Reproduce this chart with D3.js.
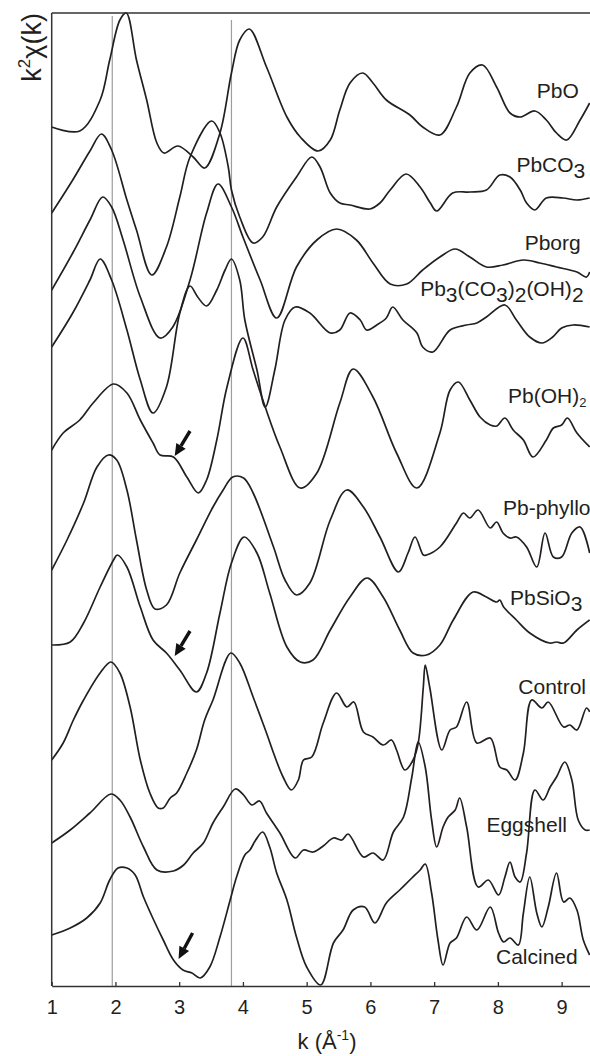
<!DOCTYPE html>
<html>
<head>
<meta charset="utf-8">
<script src="https://cdn.jsdelivr.net/npm/d3@7/dist/d3.min.js"></script>
<style>
  body { margin: 0; background: #fff; }
  text { font-family: "Liberation Sans", Arial, sans-serif; fill: #231f20; }
</style>
</head>
<body>
<script>
  // k values (1/Å) and stacked k²χ(k) values (arbitrary units, offsets included)
  const sPbO = [[1.00,859],[1.44,855],[1.76,886],[1.91,926],[2.07,966],[2.17,973],[2.33,926],[2.49,886],[2.65,843],[2.76,833],[2.98,840],[3.22,829],[3.40,818],[3.64,853],[3.82,913],[3.95,946],[4.10,957],[4.37,919],[4.69,869],[4.90,849],[5.18,835],[5.37,846],[5.52,876],[5.68,903],[5.88,913],[6.04,903],[6.25,886],[6.62,871],[6.82,859],[7.09,851],[7.35,879],[7.56,913],[7.76,921],[7.98,899],[8.19,873],[8.35,869],[8.58,875],[8.76,866],[8.92,853],[9.08,846],[9.29,866],[9.44,883]];
  const sPbCO3 = [[1.00,773],[1.33,806],[1.60,835],[1.78,852],[1.94,836],[2.18,786],[2.33,756],[2.57,711],[2.80,739],[3.01,789],[3.17,829],[3.51,865],[3.64,853],[3.77,819],[3.82,796],[3.95,769],[4.16,743],[4.31,749],[4.53,779],[4.84,809],[5.08,829],[5.21,819],[5.37,793],[5.52,783],[5.68,781],[5.99,777],[6.15,783],[6.31,796],[6.56,812],[6.78,799],[6.94,783],[7.04,775],[7.29,793],[7.56,794],[7.82,796],[8.03,811],[8.19,809],[8.35,796],[8.45,783],[8.58,776],[8.76,788],[9.02,788],[9.24,786],[9.44,788]];
  const sPborg = [[1.00,696],[1.33,733],[1.60,766],[1.80,789],[1.94,779],[2.12,746],[2.39,689],[2.70,648],[2.90,659],[3.17,706],[3.43,773],[3.61,802],[3.82,779],[4.00,749],[4.27,706],[4.53,668],[4.84,719],[5.16,746],[5.47,757],[5.78,746],[6.04,723],[6.31,702],[6.57,702],[6.82,716],[7.09,729],[7.33,737],[7.56,729],[7.82,719],[8.08,721],[8.40,726],[8.66,723],[8.92,719],[9.24,714],[9.39,709],[9.44,714]];
  const sPb3 = [[1.00,639],[1.33,673],[1.60,706],[1.76,727],[1.94,706],[2.18,656],[2.39,606],[2.59,573],[2.80,599],[3.01,673],[3.17,700],[3.29,689],[3.43,680],[3.59,696],[3.72,716],[3.82,727],[3.95,706],[4.03,666],[4.22,616],[4.35,579],[4.50,616],[4.66,666],[4.82,679],[5.05,673],[5.37,653],[5.52,656],[5.68,673],[5.84,666],[5.94,656],[6.10,661],[6.25,668],[6.35,679],[6.51,666],[6.73,653],[6.82,639],[6.98,634],[7.25,656],[7.51,661],[7.67,663],[7.82,669],[8.11,681],[8.29,666],[8.50,649],[8.69,643],[8.86,649],[9.00,658],[9.18,661],[9.44,659]];
  const sPbOH2 = [[1.00,536],[1.18,553],[1.44,566],[1.65,583],[1.97,602],[2.18,593],[2.39,566],[2.59,543],[2.70,531],[2.91,529],[3.12,509],[3.30,493],[3.43,506],[3.59,546],[3.75,599],[4.00,648],[4.16,616],[4.35,579],[4.58,539],[4.90,498],[5.16,513],[5.52,583],[5.73,617],[6.04,589],[6.41,533],[6.73,498],[7.09,553],[7.25,596],[7.38,604],[7.56,586],[7.72,569],[7.88,561],[7.98,560],[8.11,568],[8.24,556],[8.40,546],[8.55,529],[8.76,546],[8.87,558],[9.00,561],[9.09,568],[9.24,553],[9.44,539]];
  const sPhyllo = [[1.00,416],[1.24,446],[1.50,483],[1.71,519],[1.89,531],[2.02,526],[2.18,496],[2.33,446],[2.49,396],[2.62,377],[2.80,381],[3.01,413],[3.27,446],[3.53,479],[3.69,496],[3.84,509],[4.01,508],[4.16,493],[4.48,439],[4.66,406],[4.84,391],[5.05,403],[5.37,466],[5.63,496],[5.89,479],[6.15,449],[6.44,414],[6.59,433],[6.70,449],[6.83,431],[6.88,431],[7.09,439],[7.35,463],[7.46,473],[7.56,468],[7.69,476],[7.88,458],[7.98,464],[8.08,453],[8.19,448],[8.29,449],[8.45,439],[8.61,419],[8.74,453],[8.87,429],[9.00,429],[9.16,453],[9.29,459],[9.44,433]];
  const sPbSiO3 = [[1.00,341],[1.29,344],[1.50,363],[1.76,399],[1.97,426],[2.03,431],[2.18,419],[2.39,379],[2.59,346],[2.80,333],[3.01,316],[3.27,294],[3.43,313],[3.64,373],[3.82,423],[4.02,449],[4.22,433],[4.42,393],[4.69,339],[4.90,324],[5.10,326],[5.37,356],[5.68,389],[5.95,408],[6.20,389],[6.46,356],[6.67,333],[6.88,331],[7.09,341],[7.30,366],[7.61,394],[7.82,389],[7.98,384],[8.03,386],[8.09,379],[8.29,366],[8.50,353],[8.81,343],[8.92,344],[9.03,343],[9.24,356],[9.44,366]];
  const sControl = [[1.00,226],[1.18,243],[1.34,266],[1.50,286],[1.76,313],[1.93,324],[2.07,313],[2.23,279],[2.39,226],[2.54,193],[2.67,178],[2.75,178],[2.86,188],[2.96,193],[3.12,213],[3.27,236],[3.40,266],[3.53,286],[3.81,333],[3.95,323],[4.16,289],[4.37,253],[4.48,233],[4.63,209],[4.76,196],[4.87,206],[4.95,226],[5.08,229],[5.26,263],[5.47,293],[5.63,279],[5.74,284],[5.89,254],[6.04,249],[6.20,241],[6.33,246],[6.41,236],[6.54,216],[6.67,226],[6.75,243],[6.83,299],[6.86,321],[6.93,299],[7.12,236],[7.25,256],[7.35,259],[7.51,284],[7.67,243],[7.88,248],[8.03,219],[8.14,216],[8.27,206],[8.40,233],[8.53,286],[8.69,278],[8.79,284],[9.03,259],[9.13,261],[9.24,256],[9.39,278],[9.44,274]];
  const sEggshell = [[1.00,143],[1.29,156],[1.60,173],[1.93,192],[2.07,186],[2.23,169],[2.44,139],[2.65,116],[2.91,115],[3.07,121],[3.22,133],[3.38,143],[3.53,163],[3.69,179],[3.88,197],[4.01,191],[4.14,181],[4.26,185],[4.37,173],[4.58,153],[4.82,128],[4.95,136],[5.10,134],[5.26,140],[5.42,148],[5.55,146],[5.65,152],[5.89,129],[6.04,133],[6.20,126],[6.36,154],[6.52,169],[6.65,209],[6.75,244],[6.86,219],[6.96,166],[7.04,139],[7.14,159],[7.22,169],[7.33,176],[7.40,188],[7.51,159],[7.69,99],[7.85,106],[8.01,91],[8.11,109],[8.19,124],[8.27,109],[8.35,104],[8.45,133],[8.58,196],[8.71,186],[8.82,199],[8.92,209],[9.05,224],[9.16,206],[9.26,166],[9.37,156],[9.44,156]];
  const sCalcined = [[1.00,51],[1.29,58],[1.55,68],[1.76,83],[1.91,106],[2.04,118],[2.18,118],[2.31,111],[2.44,89],[2.60,66],[2.75,46],[2.91,26],[3.06,16],[3.20,13],[3.33,8],[3.48,19],[3.64,49],[3.80,86],[3.90,109],[4.03,131],[4.11,136],[4.20,146],[4.31,154],[4.42,139],[4.53,113],[4.69,86],[4.84,49],[5.00,19],[5.22,1],[5.42,43],[5.57,56],[5.73,76],[5.91,79],[6.07,63],[6.25,83],[6.46,96],[6.65,108],[6.78,116],[6.86,122],[6.96,93],[7.06,46],[7.14,21],[7.25,43],[7.35,48],[7.51,69],[7.67,56],[7.88,79],[8.01,53],[8.09,44],[8.19,48],[8.32,41],[8.40,73],[8.50,109],[8.61,73],[8.69,59],[8.79,79],[8.92,113],[9.03,84],[9.13,88],[9.24,76],[9.34,46],[9.44,31]];

  const seriesList = [sPbO, sPbCO3, sPborg, sPb3, sPbOH2, sPhyllo, sPbSiO3, sControl, sEggshell, sCalcined];

  // sample names, pieces: [text, kind] where kind 0 = normal, 1 = subscript, 2 = small subscript
  const sampleNames = [
    [["PbO",0]],
    [["PbCO",0],["3",1]],
    [["Pborg",0]],
    [["Pb",0],["3",1],["(CO",0],["3",1],[")",0],["2",1],["(OH)",0],["2",1]],
    [["Pb(OH)",0],["2",2]],
    [["Pb-phyllo",0]],
    [["PbSiO",0],["3",1]],
    [["Control",0]],
    [["Eggshell",0]],
    [["Calcined",0]]
  ];
  // where each name sits (left edge k, baseline value)
  const namePos = [[8.61,888],[8.29,814],[8.42,736],[6.78,690],[8.16,583],[8.08,471],[8.19,381],[8.32,292],[7.82,154],[7.97,22]];

  const kTicks = [1, 2, 3, 4, 5, 6, 7, 8, 9];
  const refLines = [1.95, 3.82];
  // arrows: [tail k, tail value, tip k, tip value]
  const arrows = [[3.17,555,2.93,530],[3.17,355,2.93,330],[3.21,53,2.99,27]];

  const width = 590, height = 1056;
  const svg = d3.select("body").append("svg")
    .attr("width", width)
    .attr("height", height);

  const x = d3.scaleLinear().domain([1, 9.445]).range([51.7, 590]);
  const y = d3.scaleLinear().domain([0, 973]).range([986, 13]);

  svg.append("defs").append("clipPath").attr("id", "plot")
    .append("rect")
    .attr("x", x(1)).attr("y", y(973) - 1)
    .attr("width", x(9.445) - x(1)).attr("height", y(0) - y(973) + 1);

  // gray reference lines
  svg.selectAll(".ref")
    .data(refLines)
    .join("line")
    .attr("x1", d => x(d)).attr("x2", d => x(d))
    .attr("y1", (d, i) => i === 0 ? 16 : 20)
    .attr("y2", y(0))
    .attr("stroke", "#9d9d9d")
    .attr("stroke-width", 1.2);

  // spectra
  const line = d3.line()
    .x(d => x(d[0]))
    .y(d => y(d[1]))
    .curve(d3.curveCatmullRom.alpha(0.5));

  svg.append("g").attr("clip-path", "url(#plot)")
    .selectAll("path")
    .data(seriesList)
    .join("path")
    .attr("d", line)
    .attr("fill", "none")
    .attr("stroke", "#231f20")
    .attr("stroke-width", 1.7)
    .attr("stroke-linejoin", "round");

  // frame: top and left
  svg.append("line")
    .attr("x1", x(1)).attr("x2", width)
    .attr("y1", y(973)).attr("y2", y(973))
    .attr("stroke", "#333").attr("stroke-width", 1.5);
  svg.append("line")
    .attr("x1", x(1)).attr("x2", x(1))
    .attr("y1", y(973)).attr("y2", y(0))
    .attr("stroke", "#333").attr("stroke-width", 1.5);

  // bottom axis
  const xAxis = d3.axisBottom(x)
    .tickValues(kTicks)
    .tickFormat(d3.format("d"))
    .tickSize(-4)
    .tickSizeOuter(0)
    .tickPadding(14);

  const gx = svg.append("g")
    .attr("transform", `translate(0,${y(0)})`)
    .call(xAxis);
  gx.select(".domain").attr("stroke", "#333").attr("stroke-width", 1.5);
  gx.selectAll(".tick line").attr("stroke", "#333").attr("stroke-width", 1.3);
  gx.selectAll(".tick text")
    .attr("font-family", "Liberation Sans, Arial, sans-serif")
    .attr("font-size", 20)
    .attr("fill", "#231f20");

  // axis titles
  const xt = svg.append("text")
    .attr("x", 327)
    .attr("y", 1049)
    .attr("text-anchor", "middle")
    .style("font-size", "22px");
  xt.append("tspan").text("k (Å");
  xt.append("tspan").attr("dy", -9).style("font-size", "14px").text("-1");
  xt.append("tspan").attr("dy", 9).text(")");

  const yt = svg.append("text")
    .attr("transform", "translate(41,13) rotate(-90)")
    .attr("text-anchor", "end")
    .style("font-size", "27px");
  yt.append("tspan").text("k");
  yt.append("tspan").attr("dy", -11).style("font-size", "17px").text("2");
  yt.append("tspan").attr("dy", 11).text("χ(k)");

  // sample names
  sampleNames.forEach((pieces, i) => {
    const t = svg.append("text")
      .attr("x", x(namePos[i][0]))
      .attr("y", y(namePos[i][1]))
      .style("font-size", "21px");
    let shift = 0;
    pieces.forEach(([txt, kind]) => {
      const target = kind === 1 ? 6 : kind === 2 ? 4 : 0;
      const sp = t.append("tspan").attr("dy", target - shift).text(txt);
      if (kind === 2) sp.style("font-size", "13px");
      shift = target;
    });
  });

  // arrows
  arrows.forEach(a => {
    const x0 = x(a[0]), y0 = y(a[1]), x1 = x(a[2]), y1 = y(a[3]);
    const ang = Math.atan2(y1 - y0, x1 - x0);
    const headLen = 12, headW = 5.5;
    const bx = x1 - headLen * Math.cos(ang), by = y1 - headLen * Math.sin(ang);
    svg.append("line")
      .attr("x1", x0).attr("y1", y0).attr("x2", bx).attr("y2", by)
      .attr("stroke", "#111").attr("stroke-width", 3.4);
    const px = -Math.sin(ang), py = Math.cos(ang);
    svg.append("path")
      .attr("d", `M${x1},${y1}L${bx + px * headW},${by + py * headW}L${bx - px * headW},${by - py * headW}Z`)
      .attr("fill", "#111");
  });
</script>
</body>
</html>
